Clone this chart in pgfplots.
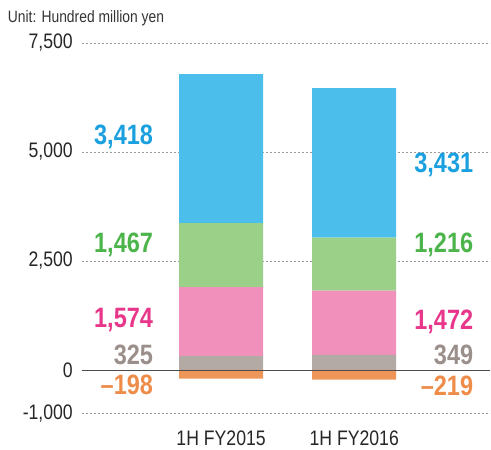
\documentclass[border=0pt]{standalone}
\usepackage{fontspec}
\setmainfont{Liberation Sans}[FakeStretch=0.84]
\usepackage{pgfplots}
\pgfplotsset{compat=1.18}

\definecolor{barblue}{HTML}{4CBEEC}
\definecolor{bargreen}{HTML}{9BD088}
\definecolor{barpink}{HTML}{F290BC}
\definecolor{bargray}{HTML}{B3AAA5}
\definecolor{barorange}{HTML}{EE965A}
\definecolor{txtblue}{HTML}{1BA0DF}
\definecolor{txtgreen}{HTML}{4BB44A}
\definecolor{txtpink}{HTML}{E8378B}
\definecolor{txtgray}{HTML}{9A8F8A}
\definecolor{txtorange}{HTML}{EE8C4A}

\tikzset{lbl/.style={inner sep=0pt, font=\fontsize{28bp}{30bp}\selectfont\bfseries}}

\pgfplotsset{
  base/.style={
    scale only axis,
    width=408bp, height=370.6bp,
    at={(82bp,36.4bp)}, anchor=south west,
    xmin=-1.045, xmax=2.02,
    ymin=-1000, ymax=7500,
    bar width=84bp,
    clip=false,
  },
}

\begin{document}
\begin{tikzpicture}
\path[use as bounding box] (0,0) rectangle (491bp,450bp);

\begin{axis}[base,
    ybar stacked,
    axis line style={draw=none},
    major tick length=0pt,
    ytick={-1000,0,2500,5000,7500},
    yticklabels={{-1,000},{0},{2,500},{5,000},{7,500}},
    ymajorgrids,
    grid style={gray!80, line width=0.8bp, dash pattern=on 2bp off 2bp},
    xtick={0,1},
    xticklabels={1H FY2015,1H FY2016},
    tick label style={font=\fontsize{21bp}{24bp}\selectfont, text=black!85},
    yticklabel style={anchor=east, inner sep=0pt, xshift=-9bp},
    xticklabel style={anchor=center, inner sep=0pt, yshift=-25bp},
]
\addplot[fill=bargray, draw=none] coordinates {(0,325) (1,349)};
\addplot[fill=barpink, draw=none] coordinates {(0,1574) (1,1472)};
\addplot[fill=bargreen, draw=none] coordinates {(0,1467) (1,1216)};
\addplot[fill=barblue, draw=none] coordinates {(0,3418) (1,3431)};
\end{axis}

\begin{axis}[base, ybar, hide axis]
\addplot[fill=barorange, draw=none] coordinates {(0,-198) (1,-219)};
\addplot[sharp plot, black!70, line width=0.9bp] coordinates {(-1.045,0) (2.02,0)};

\node[anchor=west, inner sep=0pt, font=\fontsize{16.5bp}{18bp}\selectfont, text=black!80]
  at (axis description cs:-0.182,1.067) {Unit: Hundred million yen};

\node[lbl, anchor=east, text=txtblue]   at (axis cs:-0.51,5344) {3,418};
\node[lbl, anchor=east, text=txtgreen]  at (axis cs:-0.51,2867) {1,467};
\node[lbl, anchor=east, text=txtpink]   at (axis cs:-0.51,1147) {1,574};
\node[lbl, anchor=east, text=txtgray]   at (axis cs:-0.51,344)  {325};
\node[lbl, anchor=east, text=txtorange] at (axis cs:-0.51,-344) {–198};

\node[lbl, anchor=east, text=txtblue]   at (axis cs:1.895,4702) {3,431};
\node[lbl, anchor=east, text=txtgreen]  at (axis cs:1.895,2867) {1,216};
\node[lbl, anchor=east, text=txtpink]   at (axis cs:1.895,1101) {1,472};
\node[lbl, anchor=east, text=txtgray]   at (axis cs:1.895,344)  {349};
\node[lbl, anchor=east, text=txtorange] at (axis cs:1.895,-367) {–219};
\end{axis}
\end{tikzpicture}
\end{document}
